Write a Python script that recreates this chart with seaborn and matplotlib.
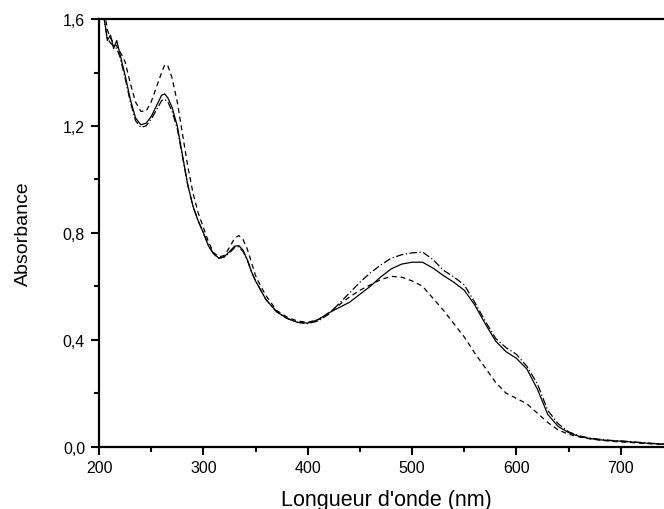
import matplotlib
matplotlib.use("Agg")
import matplotlib.pyplot as plt
import matplotlib.ticker as mticker
import pandas as pd
import seaborn as sns

sns.set_style("ticks", {'axes.edgecolor': 'black', 'text.color': 'black',
                        'axes.labelcolor': 'black', 'xtick.color': 'black',
                        'ytick.color': 'black'})
plt.rcParams['font.family'] = ['Liberation Sans', 'DejaVu Sans']

# wavelengths (nm) shared by the three spectra
wl = [204, 208, 211, 214, 217, 220, 225, 230, 235, 240, 245, 250, 255, 260, 263,
      266, 270, 275, 280, 285, 290, 295, 300, 305, 310, 315, 320, 325, 330, 334,
      338, 342, 346, 350, 355, 360, 370, 380, 390, 400, 410, 420, 430, 440, 450,
      460, 470, 480, 490, 500, 510, 520, 530, 540, 550, 560, 570, 580, 590, 600,
      610, 620, 630, 640, 650, 660, 670, 680, 690, 700, 710, 720, 730, 740, 750]

# solid line
abs_solid = [1.63, 1.52, 1.54, 1.49, 1.52, 1.47, 1.39, 1.30, 1.23, 1.205, 1.21, 1.235,
             1.275, 1.315, 1.32, 1.305, 1.27, 1.20, 1.09, 0.98, 0.90, 0.845, 0.80,
             0.75, 0.72, 0.705, 0.71, 0.73, 0.75, 0.752, 0.735, 0.70, 0.655, 0.62,
             0.585, 0.55, 0.505, 0.48, 0.465, 0.462, 0.475, 0.50, 0.52, 0.54, 0.57,
             0.60, 0.635, 0.665, 0.683, 0.69, 0.69, 0.668, 0.64, 0.615, 0.585, 0.53,
             0.46, 0.395, 0.355, 0.33, 0.29, 0.215, 0.12, 0.075, 0.052, 0.038, 0.03,
             0.025, 0.022, 0.02, 0.017, 0.014, 0.011, 0.009, 0.007]

# dashed line
abs_dashed = [1.66, 1.56, 1.53, 1.51, 1.50, 1.48, 1.44, 1.36, 1.29, 1.255, 1.255, 1.29,
              1.345, 1.40, 1.43, 1.425, 1.38, 1.29, 1.17, 1.05, 0.95, 0.875, 0.82,
              0.765, 0.725, 0.71, 0.715, 0.745, 0.78, 0.79, 0.775, 0.74, 0.69, 0.64,
              0.60, 0.565, 0.51, 0.485, 0.47, 0.465, 0.475, 0.50, 0.53, 0.56, 0.585,
              0.605, 0.625, 0.637, 0.634, 0.62, 0.60, 0.555, 0.51, 0.46, 0.41, 0.35,
              0.295, 0.24, 0.20, 0.18, 0.16, 0.125, 0.09, 0.062, 0.046, 0.036, 0.029,
              0.024, 0.02, 0.017, 0.015, 0.012, 0.01, 0.008, 0.007]

# dash-dot line
abs_dashdot = [1.62, 1.53, 1.51, 1.50, 1.49, 1.46, 1.38, 1.29, 1.22, 1.195, 1.20, 1.225,
               1.26, 1.295, 1.30, 1.29, 1.255, 1.19, 1.085, 0.98, 0.90, 0.845, 0.80,
               0.752, 0.72, 0.705, 0.71, 0.725, 0.745, 0.748, 0.73, 0.70, 0.655, 0.62,
               0.585, 0.55, 0.505, 0.48, 0.465, 0.46, 0.47, 0.495, 0.535, 0.575, 0.615,
               0.65, 0.68, 0.705, 0.718, 0.725, 0.728, 0.70, 0.66, 0.635, 0.605, 0.54,
               0.47, 0.405, 0.37, 0.345, 0.30, 0.235, 0.135, 0.085, 0.055, 0.04, 0.032,
               0.027, 0.023, 0.021, 0.018, 0.015, 0.012, 0.01, 0.008]

df = pd.concat([
    pd.DataFrame({'wl': wl, 'abs': abs_solid, 'spectre': 'a'}),
    pd.DataFrame({'wl': wl, 'abs': abs_dashed, 'spectre': 'b'}),
    pd.DataFrame({'wl': wl, 'abs': abs_dashdot, 'spectre': 'c'}),
])

fig = plt.figure(figsize=(6.64, 5.10), dpi=100)
ax = fig.add_axes([0.1491, 0.1225, 0.8645, 0.838])

sns.lineplot(data=df, x='wl', y='abs', style='spectre',
             dashes={'a': '', 'b': (4, 3), 'c': (6, 2, 1, 2)},
             color='black', linewidth=0.9, legend=False, ax=ax)

ax.set_xlim(200, 750)
ax.set_ylim(0, 1.6)
ax.xaxis.set_major_locator(mticker.MultipleLocator(100))
ax.xaxis.set_minor_locator(mticker.MultipleLocator(50))
ax.yaxis.set_major_locator(mticker.MultipleLocator(0.4))
ax.yaxis.set_minor_locator(mticker.MultipleLocator(0.2))
ax.yaxis.set_major_formatter(mticker.FuncFormatter(lambda v, p: f"{v:.1f}".replace('.', ',')))

ax.tick_params(which='major', direction='out', length=6, width=1.5, labelsize=11.5, pad=4,
               colors='black')
ax.tick_params(which='minor', direction='out', length=3.5, width=1.5, colors='black')

for side in ['left', 'bottom', 'top']:
    ax.spines[side].set_linewidth(1.6)
    ax.spines[side].set_color('black')
ax.spines['right'].set_visible(False)

ax.set_xlabel("Longueur d'onde (nm)", fontsize=15.5, labelpad=10, color='black')
ax.set_ylabel("Absorbance", fontsize=14, labelpad=22, color='black')

fig.savefig('out.png', dpi=100)
